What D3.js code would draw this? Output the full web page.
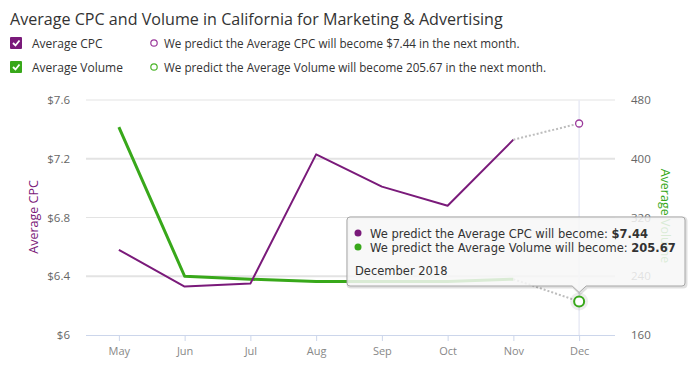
<!DOCTYPE html>
<html><head><meta charset="utf-8">
<script src="https://cdn.jsdelivr.net/npm/d3@7/dist/d3.min.js"></script>
<style>body{margin:0;background:#fff;} svg{display:block;font-family:"Open Sans",sans-serif;}</style>
</head><body>
<svg id="c" width="697" height="391"></svg>
<script>
const months = ["May","Jun","Jul","Aug","Sep","Oct","Nov","Dec"];
const cpcValues = [6.58, 6.33, 6.35, 7.23, 7.01, 6.88, 7.33];
const volumeValues = [443, 240, 236, 233, 233, 233, 236];
const predictedCpc = 7.44;
const predictedVolume = 205.67;
const cpcTicks = [6, 6.4, 6.8, 7.2, 7.6];
const volumeTicks = [160, 240, 320, 400, 480];
const title = "Average CPC and Volume in California for Marketing & Advertising";

const svg = d3.select("#c");
const pLeft = 86, pRight = 612, gridRight = 615, pTop = 100, pBottom = 335;
const purple = "#7a1a7a", green = "#38a81a";

const x = d3.scalePoint().domain(months).range([pLeft, pRight]).padding(0.5);
const yC = d3.scaleLinear().domain([6, 7.6]).range([pBottom, pTop]);
const yV = d3.scaleLinear().domain([160, 480]).range([pBottom, pTop]);

// title
svg.append("text").attr("x", 10).attr("y", 25).attr("font-size", 16.1).attr("fill", "#333")
  .attr("font-family", "Open Sans").text(title);

// legend
function check(g, y, color, label) {
  g.append("rect").attr("x", 10).attr("y", y - 6).attr("width", 12).attr("height", 12).attr("rx", 1).attr("fill", color);
  g.append("path").attr("d", `M13,${y} l2.5,2.5 l4,-5`).attr("fill", "none").attr("stroke", "#fff").attr("stroke-width", 1.8);
  g.append("text").attr("x", 32).attr("y", y + 4.5).attr("font-size", 12).attr("fill", "#333").text(label);
}
const lg = svg.append("g");
check(lg, 43, purple, "Average CPC");
check(lg, 67, green, "Average Volume");
lg.append("circle").attr("cx", 154).attr("cy", 43).attr("r", 3.2).attr("fill", "none").attr("stroke", "#9b3a9b").attr("stroke-width", 1.2);
lg.append("circle").attr("cx", 154).attr("cy", 67).attr("r", 3.2).attr("fill", "none").attr("stroke", "#4cb52a").attr("stroke-width", 1.2);
lg.append("text").attr("x", 164).attr("y", 47.5).attr("font-size", 11.7).attr("fill", "#333")
  .text(`We predict the Average CPC will become $${predictedCpc.toFixed(2)} in the next month.`);
lg.append("text").attr("x", 164).attr("y", 71.5).attr("font-size", 11.7).attr("fill", "#333")
  .text(`We predict the Average Volume will become ${predictedVolume} in the next month.`);

// gridlines
svg.append("g").selectAll("line").data(cpcTicks.slice(1)).join("line")
  .attr("x1", pLeft).attr("x2", gridRight).attr("y1", d => yC(d)).attr("y2", d => yC(d))
  .attr("stroke", "#e3e3e3").attr("stroke-width", (d, i) => (i % 2 === 0 ? 2 : 1));

// crosshair at Dec
svg.append("line").attr("x1", x("Dec")).attr("x2", x("Dec")).attr("y1", pTop).attr("y2", pBottom)
  .attr("stroke", "#e8ebf5").attr("stroke-width", 1.5);

// x axis
const xAxis = svg.append("g").attr("transform", `translate(0,${pBottom})`)
  .call(d3.axisBottom(x).tickSize(6).tickPadding(6).tickSizeOuter(0));
xAxis.select(".domain").attr("stroke", "#ccd6eb").attr("d", `M${pLeft},0.5H${gridRight}`);
xAxis.selectAll(".tick line").attr("stroke", "#ccd6eb");
xAxis.selectAll(".tick text").attr("fill", "#888").attr("font-size", 11).attr("font-family", "Open Sans");

// left axis
const yl = svg.append("g").attr("transform", `translate(${pLeft},0)`)
  .call(d3.axisLeft(yC).tickValues(cpcTicks).tickSize(0).tickPadding(16).tickFormat(d => "$" + d));
yl.select(".domain").remove();
yl.selectAll("text").attr("fill", "#666").attr("font-size", 11.5).attr("font-family", "Open Sans");

// right axis
const yr = svg.append("g").attr("transform", `translate(${gridRight},0)`)
  .call(d3.axisRight(yV).tickValues(volumeTicks).tickSize(0).tickPadding(16));
yr.select(".domain").remove();
yr.selectAll("text").attr("fill", "#666").attr("font-size", 11.5).attr("font-family", "Open Sans");

// axis titles
svg.append("text").attr("transform", `translate(38,217) rotate(-90)`).attr("text-anchor", "middle")
  .attr("font-size", 12.5).attr("fill", purple).text("Average CPC");
svg.append("text").attr("transform", `translate(661,216) rotate(90)`).attr("text-anchor", "middle")
  .attr("font-size", 12.5).attr("fill", green).text("Average Volume");

// lines
const hist = months.slice(0, 7);
const lineC = d3.line().x((d, i) => x(hist[i])).y(d => yC(d));
const lineV = d3.line().x((d, i) => x(hist[i])).y(d => yV(d));
svg.append("path").attr("d", lineV(volumeValues)).attr("fill", "none").attr("stroke", green).attr("stroke-width", 3).attr("stroke-linejoin", "round");
svg.append("path").attr("d", lineC(cpcValues)).attr("fill", "none").attr("stroke", purple).attr("stroke-width", 2).attr("stroke-linejoin", "round");

// predictions dotted
const dot = (y, a, b) => svg.append("line").attr("x1", x("Nov")).attr("y1", y(a)).attr("x2", x("Dec")).attr("y2", y(b))
  .attr("stroke", "#bdbdbd").attr("stroke-width", 2).attr("stroke-dasharray", "2,2");
dot(yC, cpcValues[6], predictedCpc);
dot(yV, volumeValues[6], predictedVolume);
svg.append("circle").attr("cx", x("Dec")).attr("cy", yC(predictedCpc)).attr("r", 3.5)
  .attr("fill", "#fff").attr("stroke", "#9b3a9b").attr("stroke-width", 1.3);
svg.append("circle").attr("cx", x("Dec")).attr("cy", yV(predictedVolume)).attr("r", 9).attr("fill", "rgba(0,0,0,0.07)");
svg.append("circle").attr("cx", x("Dec")).attr("cy", yV(predictedVolume)).attr("r", 5)
  .attr("fill", "#fff").attr("stroke", green).attr("stroke-width", 2);

// tooltip
const tx = 347, ty = 217, tw = 338, th = 69;
const px = x("Dec"), tipY = yV(predictedVolume) - 9;
const tp = `M${tx + 3},${ty} H${tx + tw - 3} Q${tx + tw},${ty} ${tx + tw},${ty + 3} V${ty + th - 3} Q${tx + tw},${ty + th} ${tx + tw - 3},${ty + th} H${px + 7} L${px},${tipY} L${px - 7},${ty + th} H${tx + 3} Q${tx},${ty + th} ${tx},${ty + th - 3} V${ty + 3} Q${tx},${ty} ${tx + 3},${ty} Z`;
svg.append("path").attr("d", tp).attr("transform", "translate(1,1)").attr("fill", "none").attr("stroke", "rgba(0,0,0,0.12)").attr("stroke-width", 3);
svg.append("path").attr("d", tp).attr("fill", "rgba(247,247,247,0.85)").attr("stroke", "#a8a8a8").attr("stroke-width", 1);
const tt = svg.append("g").attr("font-family", "DejaVu Sans").attr("font-size", 11.5).attr("fill", "#333");
tt.append("circle").attr("cx", 358).attr("cy", 233).attr("r", 3.5).attr("fill", purple);
tt.append("circle").attr("cx", 358).attr("cy", 247).attr("r", 3.5).attr("fill", green);
const t1 = tt.append("text").attr("x", 370).attr("y", 237.5);
t1.append("tspan").text("We predict the Average CPC will become: ");
t1.append("tspan").attr("font-weight", "bold").text("$" + predictedCpc.toFixed(2));
const t2 = tt.append("text").attr("x", 370).attr("y", 251.5);
t2.append("tspan").text("We predict the Average Volume will become: ");
t2.append("tspan").attr("font-weight", "bold").text(predictedVolume);
tt.append("text").attr("x", 355).attr("y", 275).text("December 2018");
</script>
</body></html>
